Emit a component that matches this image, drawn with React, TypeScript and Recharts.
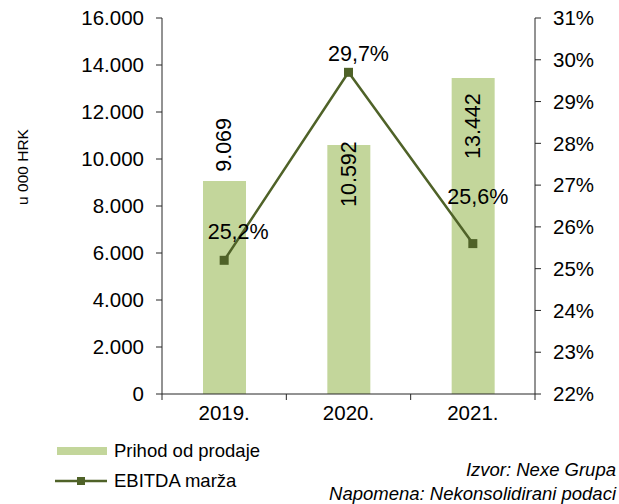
import React from 'react';
import { ComposedChart, Bar, Line, XAxis, YAxis, Legend, LabelList, Label } from 'recharts';

const years = ['2019.', '2020.', '2021.'];
const revenue = [9069, 10592, 13442];
const ebitdaMargin = [25.2, 29.7, 25.6];
const leftTicks = [0, 2000, 4000, 6000, 8000, 10000, 12000, 14000, 16000];
const rightTicks = [22, 23, 24, 25, 26, 27, 28, 29, 30, 31];

const data = years.map((year, i) => ({ year, revenue: revenue[i], margin: ebitdaMargin[i] }));

const FONT = '"Liberation Sans", Arial, Helvetica, sans-serif';
const BAR_COLOR = '#C3D69B';
const LINE_COLOR = '#4F6228';
const AXIS_COLOR = '#262626';
const TEXT_COLOR = '#000000';

const BAR_LABEL_DY = [-36, 29, 48];
const LINE_LABEL_OFFSET: [number, number][] = [[14, -28], [10, -18], [5, -47]];

const fmtThousands = (v: number) => String(v).replace(/\B(?=(\d{3})+(?!\d))/g, '.');
const fmtPct = (v: number) => `${String(v).replace('.', ',')}%`;

const renderBarLabel = (props: any) => {
  const { x, y, width, value, index } = props;
  const cx = Number(x) + Number(width) / 2;
  const cy = Number(y) + BAR_LABEL_DY[index];
  return (
    <text
      x={cx}
      y={cy}
      transform={`rotate(-90 ${cx} ${cy})`}
      textAnchor="middle"
      dominantBaseline="central"
      fontSize={21.5}
      fontFamily={FONT}
      fill={TEXT_COLOR}
    >
      {fmtThousands(value)}
    </text>
  );
};

const renderLineLabel = (props: any) => {
  const { x, y, value, index } = props;
  const [dx, dy] = LINE_LABEL_OFFSET[index];
  return (
    <text
      x={Number(x) + dx}
      y={Number(y) + dy}
      textAnchor="middle"
      dominantBaseline="central"
      fontSize={21.5}
      fontFamily={FONT}
      fill={TEXT_COLOR}
    >
      {fmtPct(value)}
    </text>
  );
};

const renderDot = (p: any) => (
  <rect key={`dot-${p.index}`} x={p.cx - 4.5} y={p.cy - 4.5} width={9} height={9} fill={LINE_COLOR} />
);

const X_TICK_SIZE = 6;
const X_TICK_MARGIN = 5;

const XTick = (props: any) => {
  const { x, y, payload, index, visibleTicksCount, width } = props;
  let half = payload && payload.offset ? payload.offset : 0;
  if (!half && width && visibleTicksCount) half = width / (2 * visibleTicksCount);
  const axisY = y - X_TICK_SIZE - X_TICK_MARGIN;
  return (
    <g>
      <line x1={x - half} x2={x - half} y1={axisY} y2={axisY + X_TICK_SIZE} stroke={AXIS_COLOR} strokeWidth={1} />
      {index === visibleTicksCount - 1 && (
        <line x1={x + half} x2={x + half} y1={axisY} y2={axisY + X_TICK_SIZE} stroke={AXIS_COLOR} strokeWidth={1} />
      )}
      <text x={x} y={y} dy="0.71em" textAnchor="middle" fontSize={20.5} fontFamily={FONT} fill={TEXT_COLOR}>
        {payload.value}
      </text>
    </g>
  );
};

const renderYLabel = (props: any) => {
  const vb = props.viewBox || { x: 0, y: 18 };
  const cx = vb.x + 22;
  const cy = vb.y + 149;
  return (
    <text
      x={cx}
      y={cy}
      transform={`rotate(-90 ${cx} ${cy})`}
      textAnchor="middle"
      dominantBaseline="central"
      fontSize={15.5}
      fontFamily={FONT}
      fill={TEXT_COLOR}
    >
      u 000 HRK
    </text>
  );
};

const legendText: React.CSSProperties = {
  position: 'absolute',
  fontSize: 18.5,
  lineHeight: '20px',
  whiteSpace: 'nowrap',
  fontFamily: FONT,
  color: TEXT_COLOR,
};

const renderLegend = () => (
  <div style={{ position: 'relative', width: 619, height: 60 }}>
    <div style={{ position: 'absolute', left: 57, top: 7, width: 50, height: 8, background: BAR_COLOR }} />
    <span style={{ ...legendText, left: 114, top: 1 }}>Prihod od prodaje</span>
    <svg style={{ position: 'absolute', left: 55, top: 32 }} width={52} height={18}>
      <line x1={0} x2={52} y1={9} y2={9} stroke={LINE_COLOR} strokeWidth={2.5} />
      <rect x={22} y={5} width={8} height={8} fill={LINE_COLOR} />
    </svg>
    <span style={{ ...legendText, left: 114, top: 31 }}>EBITDA marža</span>
    <span style={{ ...legendText, right: 3, top: 20, fontStyle: 'italic' }}>Izvor: Nexe Grupa</span>
    <span style={{ ...legendText, right: 3, top: 44, fontStyle: 'italic' }}>Napomena: Nekonsolidirani podaci</span>
  </div>
);

export default function App() {
  return (
    <div style={{ position: 'absolute', left: 0, top: 0, width: 619, height: 504, background: '#fff' }}>
      <ComposedChart
        width={619}
        height={504}
        data={data}
        margin={{ top: 18, right: 0, bottom: 4, left: 0 }}
        style={{ fontFamily: FONT }}
      >
        <XAxis
          dataKey="year"
          xAxisId="x"
          height={46}
          tickLine={false}
          tickSize={X_TICK_SIZE}
          tickMargin={X_TICK_MARGIN}
          axisLine={{ stroke: AXIS_COLOR, strokeWidth: 1 }}
          tick={<XTick />}
          interval={0}
        />
        <YAxis
          yAxisId="left"
          width={162}
          domain={[0, 16000]}
          ticks={leftTicks}
          interval={0}
          tickFormatter={fmtThousands}
          tickSize={6}
          tickMargin={12}
          axisLine={{ stroke: AXIS_COLOR, strokeWidth: 1 }}
          tickLine={{ stroke: AXIS_COLOR, strokeWidth: 1 }}
          tick={{ fill: TEXT_COLOR, fontSize: 20.5, fontFamily: FONT }}
        >
          <Label content={renderYLabel} />
        </YAxis>
        <YAxis
          yAxisId="right"
          orientation="right"
          width={84}
          domain={[22, 31]}
          ticks={rightTicks}
          interval={0}
          tickFormatter={(v: number) => `${v}%`}
          tickSize={6}
          tickMargin={12}
          axisLine={{ stroke: AXIS_COLOR, strokeWidth: 1 }}
          tickLine={{ stroke: AXIS_COLOR, strokeWidth: 1 }}
          tick={{ fill: TEXT_COLOR, fontSize: 20.5, fontFamily: FONT }}
        />
        <Legend verticalAlign="bottom" align="left" layout="horizontal" content={renderLegend} />
        <Bar
          dataKey="revenue"
          name="Prihod od prodaje"
          xAxisId="x"
          yAxisId="left"
          fill={BAR_COLOR}
          barSize={43}
          isAnimationActive={false}
        >
          <LabelList dataKey="revenue" content={renderBarLabel} />
        </Bar>
        <Line
          dataKey="margin"
          name="EBITDA marža"
          xAxisId="x"
          yAxisId="right"
          stroke={LINE_COLOR}
          strokeWidth={2.5}
          dot={renderDot}
          activeDot={false}
          isAnimationActive={false}
        >
          <LabelList dataKey="margin" content={renderLineLabel} />
        </Line>
      </ComposedChart>
    </div>
  );
}
